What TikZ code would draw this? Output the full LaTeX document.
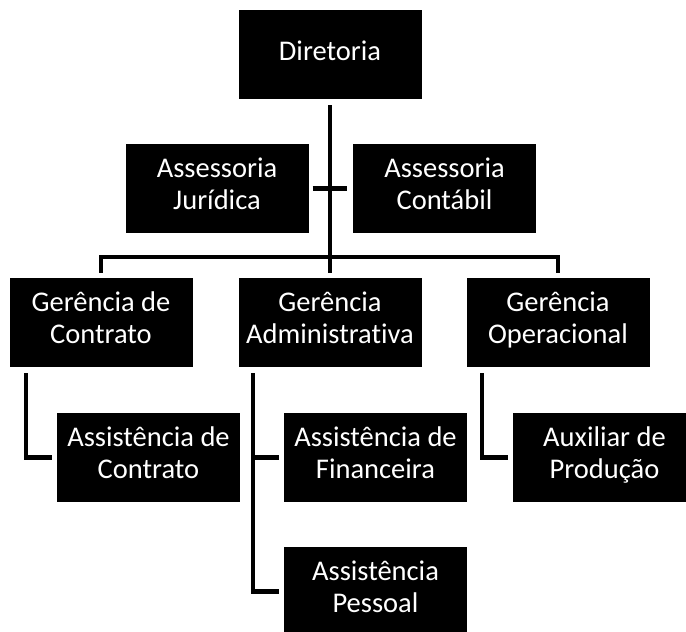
\documentclass[tikz,border=0pt]{standalone}
\usepackage{fontspec}
\setmainfont{Carlito}[Ligatures=NoCommon]
\begin{document}
\begin{tikzpicture}[x=1pt,y=-1pt,
  box/.style={fill=black,text=white,minimum width=183pt,minimum height=89pt,inner sep=0pt,align=center,
    font=\fontsize{28.5}{31.7}\selectfont,
    execute at begin node=\strut, execute at end node=\strut},
  conn/.style={line width=4.8pt,line join=miter}]
\clip (0,0) rectangle (686,632);
\node[box] (dir) at (330,54.5) {Diretoria};
\node[box] (jur) at (217,188.5) {Assessoria\\Jurídica};
\node[box] (cont) at (444.5,188.5) {Assessoria\\Contábil};
\node[box] (gc) at (101,322.5) {Gerência de\\Contrato};
\node[box] (ga) at (330,322.5) {Gerência\\Administrativa};
\node[box] (gop) at (558,322.5) {Gerência\\Operacional};
\node[box] (ac) at (148.5,457.5) {Assistência de\\Contrato};
\node[box] (af) at (375.5,457.5) {Assistência de\\Financeira};
\node[box] (ap) at (604.5,457.5) {Auxiliar de\\Produção};
\node[box] (pe) at (375.5,591.5) {Assistência\\Pessoal};
\coordinate (bar) at (330,257);
\draw[conn] ([yshift=-6pt]dir.south) -- ([yshift=5pt]ga.north);
\draw[conn] ([yshift=5pt]gc.north) |- (bar) -| ([yshift=5pt]gop.north);
\draw[conn] ([xshift=4pt]jur.east) -- ([xshift=-6pt]cont.west);
\draw[conn] ([xshift=-75pt,yshift=-6pt]gc.south) |- ([xshift=-5pt]ac.west);
\coordinate (gaj) at ([xshift=-77pt,yshift=-6pt]ga.south);
\draw[conn] (gaj) |- ([xshift=-5pt]pe.west);
\draw[conn] (gaj |- af.west) -- ([xshift=-5pt]af.west);
\draw[conn] ([xshift=-76pt,yshift=-6pt]gop.south) |- ([xshift=-5pt]ap.west);
\end{tikzpicture}
\end{document}
